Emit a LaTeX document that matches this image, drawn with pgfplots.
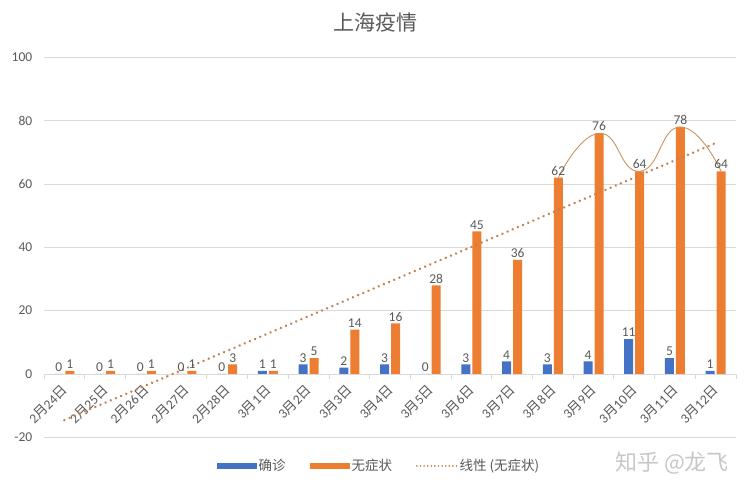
\documentclass[border=0pt]{standalone}
\usepackage{fontspec}
\setmainfont{Carlito}
\newfontfamily\cjk{Noto Sans CJK SC}
\usepackage{pgfplots}
\pgfplotsset{compat=1.18}
\definecolor{cblue}{HTML}{4472C4}
\definecolor{corange}{HTML}{ED7D31}
\definecolor{ctext}{HTML}{595959}
\definecolor{cgrid}{HTML}{D9D9D9}
\definecolor{ctrend}{HTML}{C08050}
\definecolor{ccurve}{HTML}{C9955F}
\newcommand\md[2]{#1{\cjk 月}#2{\cjk 日}}
\begin{document}
\begin{tikzpicture}[x=1pt,y=1pt]
\useasboundingbox (0,0) rectangle (744,490);
\node[font=\cjk\fontsize{21}{25}\selectfont, text=ctext] at (375,468) {上海疫情};
\node[font=\cjk\fontsize{22}{26}\selectfont, text=black!22] at (672,27) {知乎 @龙飞};
\begin{axis}[
  /pgf/number format/assume math mode=true,
  at={(44pt,52.7pt)}, anchor=south west,
  scale only axis, width=692pt, height=380pt,
  xmin=-0.5, xmax=16.5, ymin=-20, ymax=100,
  ytick={-20,0,20,40,60,80,100},
  xtick={0,...,16},
  minor xtick={-0.5,0.5,...,16.5},
  xticklabels={\md{2}{24},\md{2}{25},\md{2}{26},\md{2}{27},\md{2}{28},\md{3}{1},\md{3}{2},\md{3}{3},\md{3}{4},\md{3}{5},\md{3}{6},\md{3}{7},\md{3}{8},\md{3}{9},\md{3}{10},\md{3}{11},\md{3}{12}},
  axis x line=middle,
  axis y line=left,
  x axis line style={-, draw=cgrid, line width=0.8pt},
  y axis line style={draw=none},
  tick align=outside,
  major x tick style={draw=none},
  minor x tick style={draw=cgrid, line width=0.8pt},
  minor tick length=5pt,
  ytick style={draw=none},
  ymajorgrids, grid style={cgrid, line width=0.8pt},
  tick label style={font=\fontsize{13.5}{16}\selectfont, text=ctext},
  xticklabel style={yshift=-8pt, xshift=2pt, rotate=45, anchor=east, inner sep=2pt},
  yticklabel style={xshift=-4pt},
  legend style={at={(0.484,-0.0755)}, anchor=center, draw=none, fill=none,
    legend columns=3, font=\cjk\fontsize{13.5}{16}\selectfont, text=ctext,
    /tikz/every even column/.append style={column sep=22pt}},
  legend cell align=left,
]
\addplot[ybar, bar width=9pt, bar shift=-5.5pt, fill=cblue, draw=none,
  nodes near coords, nodes near coords style={font=\fontsize{13.5}{16}\selectfont, text=ctext, xshift=-5.5pt, inner sep=2pt},
  legend image code/.code={\fill[cblue] (0pt,-3pt) rectangle (40pt,3pt);}]
coordinates {(0,0)(1,0)(2,0)(3,0)(4,0)(5,1)(6,3)(7,2)(8,3)(9,0)(10,3)(11,4)(12,3)(13,4)(14,11)(15,5)(16,1)};
\addlegendentry{确诊}
\addplot[ybar, bar width=9pt, bar shift=5.5pt, fill=corange, draw=none,
  nodes near coords, nodes near coords style={font=\fontsize{13.5}{16}\selectfont, text=ctext, xshift=5.5pt, inner sep=2pt},
  legend image code/.code={\fill[corange] (0pt,-3pt) rectangle (40pt,3pt);}]
coordinates {(0,1)(1,1)(2,1)(3,1)(4,3)(5,1)(6,5)(7,14)(8,16)(9,28)(10,45)(11,36)(12,62)(13,76)(14,64)(15,78)(16,64)};
\addlegendentry{无症状}
\addplot[ctrend, line width=2.6pt, dash pattern=on 0.1pt off 5.5pt, line cap=round,
  legend image code/.code={\draw[ctrend, line width=1.6pt, dash pattern=on 0.1pt off 3.5pt, line cap=round] (0pt,0pt) -- (40pt,0pt);}]
coordinates {(0,-14.57)(16,72.93)};
\addlegendentry{线性 (无症状)}
\addplot[ccurve, line width=0.9pt, smooth, tension=0.9, forget plot]
coordinates {(12.135,62)(13.135,76)(14.135,64)(15.135,78)(16.135,64)};
\end{axis}
\end{tikzpicture}
\end{document}
